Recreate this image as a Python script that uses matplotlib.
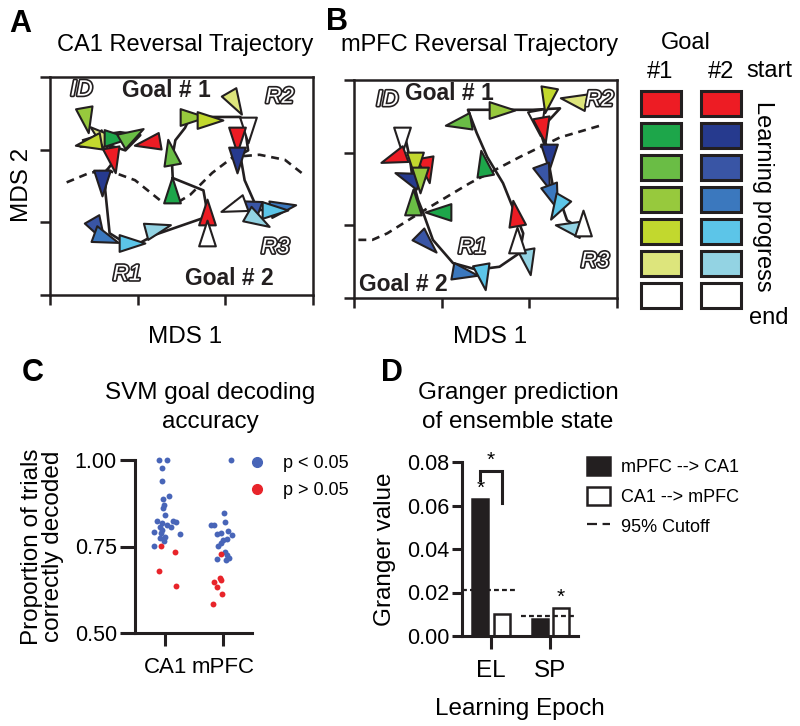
import matplotlib
matplotlib.use('Agg')
import matplotlib.pyplot as plt
import matplotlib.patheffects as pe
from matplotlib.markers import MarkerStyle
from matplotlib.path import Path
from matplotlib.transforms import Affine2D
from matplotlib.patches import Patch
from matplotlib.lines import Line2D
import numpy as np

plt.rcParams['font.family'] = ['Liberation Sans', 'DejaVu Sans']

W, H = 800, 726
INK = '#231F20'

# learning progress colours (start -> end)
goal1_colors = ['#ED1C24', '#1DA64A', '#6ABD45', '#97C93D', '#C2D82E', '#DDE57C', '#FFFFFF']
goal2_colors = ['#ED1C24', '#263A8E', '#3955A5', '#3B78BE', '#5CC5E8', '#93D3E3', '#FFFFFF']
color_key = {'r': goal1_colors[0], 'g1': goal1_colors[1], 'g2': goal1_colors[2],
             'g3': goal1_colors[3], 'g4': goal1_colors[4], 'g5': goal1_colors[5],
             'b1': goal2_colors[1], 'b2': goal2_colors[2], 'b3': goal2_colors[3],
             'b4': goal2_colors[4], 'b5': goal2_colors[5], 'w': '#FFFFFF'}

# --- A: CA1 trajectory (MDS units) ---
ca1_path_x = [0.38, 0.57, 0.80, 1.03, 0.86, 0.68, 0.74, 0.65, 0.63, 0.68, 0.80, 1.03, 1.20,
              1.75, 1.79, 1.75, 1.40, 1.39, 1.40, 1.39, 1.43, 1.54, 1.60, 2.17, 2.22, 2.26,
              2.17, 2.22, 2.37, 2.57]
ca1_path_y = [2.13, 2.20, 2.24, 2.20, 1.99, 2.06, 1.86, 1.72, 1.44, 0.85, 0.76, 0.72, 0.83,
              1.06, 1.17, 1.44, 1.61, 1.42, 1.61, 1.86, 2.13, 2.30, 2.45, 2.45, 2.34, 1.99,
              1.93, 1.58, 1.17, 1.17]
ca1_tri_x = [0.41, 0.48, 0.57, 0.43, 0.76, 0.94, 1.11, 0.72, 0.59, 0.55, 0.64, 0.94, 1.23,
             1.79, 1.79, 1.39, 1.37, 1.63, 1.82, 2.11, 2.26, 2.13, 2.13, 2.25, 2.66, 2.57,
             2.37, 2.09]
ca1_tri_y = [2.41, 2.10, 2.20, 2.09, 2.16, 2.20, 2.09, 1.86, 1.54, 0.89, 0.78, 0.72, 0.92,
             1.14, 0.85, 1.44, 1.97, 2.45, 2.41, 2.64, 2.27, 2.13, 1.86, 1.24, 1.21, 1.17,
             1.03, 1.21]
ca1_tri_angle = [-80, 200, 140, 190, 0, 30, 190, -80, -90, -60, -20, 0, 15,
                 90, 90, 90, 100, 0, 0, -60, -90, -90, -90, 160, 10, 0, -30, 200]
ca1_tri_color = ['g3', 'g5', 'g5', 'g4', 'g1', 'g2', 'r', 'r', 'b1', 'b2', 'b3', 'b4', 'b5',
                 'r', 'w', 'g1', 'g2', 'g3', 'g4', 'g5', 'w', 'r', 'b1', 'b2', 'b3', 'b4',
                 'b5', 'w']
ca1_bound_x = [0.19, 0.45, 0.65, 0.97, 1.29, 1.45, 1.60, 1.85, 2.09, 2.39, 2.68, 2.87]
ca1_bound_y = [1.55, 1.68, 1.72, 1.58, 1.27, 1.27, 1.38, 1.68, 1.90, 1.93, 1.86, 1.68]

# --- B: mPFC trajectory ---
pfc_path_x = [0.58, 0.64, 0.67, 0.73, 0.79, 0.90, 1.13, 1.40, 1.66, 1.89, 1.93, 1.81, 1.70,
              1.52, 1.40, 1.30, 1.66, 2.04, 2.35, 2.12, 2.18, 2.23, 2.27, 2.35, 2.43, 2.52]
pfc_path_y = [2.24, 1.90, 1.62, 1.35, 1.17, 0.80, 0.48, 0.39, 0.43, 0.62, 0.89, 1.25, 1.58,
              1.94, 2.27, 2.59, 2.59, 2.59, 2.61, 2.31, 2.08, 1.80, 1.53, 1.35, 1.07, 1.00]
pfc_tri_x = [0.55, 0.44, 0.83, 0.70, 0.60, 0.75, 0.67, 0.96, 0.83, 1.27, 1.47, 1.98, 1.86,
             1.84, 1.47, 1.19, 1.69, 2.20, 2.50, 2.10, 2.16, 2.23, 2.18, 2.27, 2.31, 2.44, 2.61]
pfc_tri_y = [2.17, 1.93, 1.76, 1.83, 1.66, 1.62, 1.32, 1.18, 0.76, 0.34, 0.29, 0.50, 0.80,
             1.17, 1.86, 2.41, 2.59, 2.72, 2.72, 2.41, 2.31, 1.94, 1.66, 1.39, 1.24, 0.98, 1.03]
pfc_tri_angle = [-90, 200, -80, -90, 160, -90, 90, 180, -45, -10, -80, -80, 90,
                 100, 100, 190, 0, -100, 170, -80, -80, -90, -70, -70, -120, 170, 90]
pfc_tri_color = ['w', 'r', 'r', 'g4', 'b1', 'g3', 'g2', 'g1', 'b2', 'b3', 'b4', 'b5', 'w',
                 'r', 'g1', 'g2', 'g3', 'g4', 'g5', 'w', 'r', 'b1', 'b2', 'b3', 'b4', 'b5', 'w']
pfc_bound_x = [0.05, 0.21, 0.38, 0.75, 1.32, 1.89, 2.35, 2.83]
pfc_bound_y = [0.80, 0.80, 0.89, 1.17, 1.58, 1.94, 2.21, 2.38]

# --- C: SVM decoding accuracy (x jitter, value) ---
ca1_sig_jit = [-0.10, 0.04, -0.06, -0.06, 0.07, -0.03, -0.02, -0.03, -0.01, -0.14, -0.06, 0.14,
               0.18, 0.03, 0.10, -0.09, -0.05, -0.20, -0.07, 0.26, 0.00, -0.09, -0.02, -0.20]
ca1_sig_val = [1.00, 1.00, 0.977, 0.938, 0.896, 0.887, 0.871, 0.861, 0.842, 0.824, 0.818, 0.824,
               0.821, 0.813, 0.806, 0.807, 0.797, 0.792, 0.790, 0.786, 0.778, 0.775, 0.765, 0.751]
ca1_ns_jit = [-0.07, 0.17, -0.10, 0.19]
ca1_ns_val = [0.751, 0.733, 0.679, 0.636]
pfc_sig_jit = [0.13, 0.02, -0.21, -0.16, 0.04, -0.11, -0.03, 0.09, 0.16, 0.07, 0.00, -0.09,
               -0.03, 0.03, 0.06, 0.10, 0.05, -0.11]
pfc_sig_val = [1.00, 0.847, 0.812, 0.812, 0.821, 0.785, 0.788, 0.794, 0.783, 0.773, 0.768, 0.751,
               0.761, 0.734, 0.725, 0.717, 0.711, 0.715]
pfc_ns_jit = [-0.04, -0.06, -0.03, -0.16, -0.10, -0.02, -0.18]
pfc_ns_val = [0.728, 0.659, 0.654, 0.647, 0.632, 0.614, 0.585]
svm_groups = ['CA1', 'mPFC']

# --- D: Granger values ---
epochs = ['EL', 'SP']
mpfc_to_ca1 = [0.063, 0.008]
ca1_to_mpfc = [0.010, 0.013]
cutoff_95 = [0.021, 0.009]

# ---------------------------------------------------------------
fig = plt.figure(figsize=(W / 100, H / 100), dpi=100)


def px_box(x0, y0, x1, y1):
    return [x0 / W, 1 - y1 / H, (x1 - x0) / W, (y1 - y0) / H]


def ftext(x, y, s, **kw):
    kw.setdefault('ha', 'center')
    kw.setdefault('va', 'center')
    return fig.text(x / W, 1 - y / H, s, **kw)


tri_path = Path([(1, 0), (-1, 0.65), (-1, -0.65), (1, 0)],
                [Path.MOVETO, Path.LINETO, Path.LINETO, Path.CLOSEPOLY])
outline = [pe.Stroke(linewidth=2.4, foreground=INK), pe.Normal()]


def trajectory(ax, px, py, tx, ty, ta, tc, bx, by, labels):
    ax.plot(bx, by, color=INK, lw=1.9, ls=(0, (3.0, 2.2)), zorder=1)
    ax.plot(px, py, color=INK, lw=1.9, zorder=2)
    for x, y, a, c in zip(tx, ty, ta, tc):
        m = MarkerStyle(tri_path, transform=Affine2D().rotate_deg(a))
        ax.plot(x, y, marker=m, ms=18.5, mfc=color_key[c], mec=INK, mew=1.5,
                ls='none', zorder=3)
    for x, y, s, kind in labels:
        if kind == 'goal':
            ax.text(x, y, s, fontsize=16.5, fontweight='bold', ha='center', va='center',
                    color=INK, zorder=4)
        else:
            ax.text(x, y, s, fontsize=16, style='italic', ha='center', va='center',
                    color='white', path_effects=outline, zorder=4)
    ax.set_xlim(0, 3)
    ax.set_ylim(0, 3)
    ax.set_xticks([0, 1, 2, 3])
    ax.set_yticks([0, 1, 2, 3])
    ax.set_xticklabels([])
    ax.set_yticklabels([])
    ax.tick_params(direction='out', length=7, width=1.8, color=INK)
    for sp in ax.spines.values():
        sp.set_linewidth(1.8)
        sp.set_color(INK)


axA = fig.add_axes(px_box(50, 77, 313, 295))
trajectory(axA, ca1_path_x, ca1_path_y, ca1_tri_x, ca1_tri_y, ca1_tri_angle, ca1_tri_color,
           ca1_bound_x, ca1_bound_y,
           [(0.36, 2.82, 'ID', 'r'), (1.33, 2.82, 'Goal # 1', 'goal'), (2.62, 2.72, 'R2', 'r'),
            (2.57, 0.65, 'R3', 'r'), (0.88, 0.28, 'R1', 'r'), (2.05, 0.23, 'Goal # 2', 'goal')])

axB = fig.add_axes(px_box(354, 80, 617, 298))
trajectory(axB, pfc_path_x, pfc_path_y, pfc_tri_x, pfc_tri_y, pfc_tri_angle, pfc_tri_color,
           pfc_bound_x, pfc_bound_y,
           [(0.38, 2.72, 'ID', 'r'), (1.09, 2.82, 'Goal # 1', 'goal'), (2.80, 2.72, 'R2', 'r'),
            (1.35, 0.69, 'R1', 'r'), (2.75, 0.50, 'R3', 'r'), (0.56, 0.18, 'Goal # 2', 'goal')])

ftext(20, 24, 'A', fontsize=22, fontweight='bold')
ftext(337, 22, 'B', fontsize=22, fontweight='bold')
ftext(185, 45, 'CA1 Reversal Trajectory', fontsize=17)
ftext(480, 45, 'mPFC Reversal Trajectory', fontsize=17)
ftext(22, 185, 'MDS 2', fontsize=17.5, rotation=90)
ftext(185, 337, 'MDS 1', fontsize=17.5)
ftext(490, 337, 'MDS 1', fontsize=17.5)

# colour key
axL = fig.add_axes(px_box(631, 87.5, 751, 311.5))
rows = np.arange(len(goal1_colors))
for col, cols in enumerate([goal1_colors, goal2_colors]):
    axL.bar(np.full(len(rows), col), np.full(len(rows), 0.78), bottom=rows - 0.39, width=0.667,
            color=cols, edgecolor=INK, linewidth=2.2)
axL.set_xlim(-0.5, 1.5)
axL.set_ylim(6.5, -0.5)
axL.axis('off')
ftext(686, 43, 'Goal', fontsize=17)
ftext(660, 72, '#1', fontsize=17)
ftext(721, 72, '#2', fontsize=17)
ftext(769, 71, 'start', fontsize=17)
ftext(763, 196, 'Learning progress', fontsize=17, rotation=-90)
ftext(769, 318, 'end', fontsize=17)

# --- C ---
axC = fig.add_axes(px_box(135, 460, 252, 633))
blue, red = '#4865B8', '#E8242A'
for i, (sj, sv, nj, nv) in enumerate([(ca1_sig_jit, ca1_sig_val, ca1_ns_jit, ca1_ns_val),
                                       (pfc_sig_jit, pfc_sig_val, pfc_ns_jit, pfc_ns_val)]):
    axC.scatter(i + np.array(sj), sv, s=18, color=blue, clip_on=False, zorder=3, lw=0)
    axC.scatter(i + np.array(nj), nv, s=18, color=red, clip_on=False, zorder=3, lw=0)
axC.set_xlim(-0.52, 1.5)
axC.set_ylim(0.5, 1.0)
axC.set_yticks([0.5, 0.75, 1.0])
axC.set_yticklabels(['0.50', '0.75', '1.00'])
axC.set_xticks([0, 1])
axC.set_xticklabels(svm_groups)
axC.spines[['top', 'right']].set_visible(False)
for sp in ['left', 'bottom']:
    axC.spines[sp].set_linewidth(2.2)
    axC.spines[sp].set_color(INK)
axC.tick_params(axis='y', length=11, width=2.2, labelsize=15.5, pad=2, color=INK)
axC.tick_params(axis='x', length=9, width=2.2, labelsize=16, pad=8, color=INK)
axC.set_ylabel('Proportion of trials\ncorrectly decoded', fontsize=17.5, labelpad=8,
               linespacing=0.95)
axC.legend(handles=[Line2D([], [], ls='none', marker='o', ms=7, mfc=blue, mec=blue),
                    Line2D([], [], ls='none', marker='o', ms=7, mfc=red, mec=red)],
           labels=['p < 0.05', 'p > 0.05'], loc='upper left', bbox_to_anchor=(248 / W, 1 - 455 / H),
           bbox_transform=fig.transFigure, frameon=False, fontsize=13, handlelength=1.0,
           handletextpad=0.95, labelspacing=0.55, borderpad=0, borderaxespad=0)
ftext(33, 373, 'C', fontsize=22, fontweight='bold')
ftext(210, 393, 'SVM goal decoding', fontsize=17.5)
ftext(210, 422, 'accuracy', fontsize=17.5)

# --- D ---
axD = fig.add_axes(px_box(462, 462, 578, 636))
xe = np.arange(len(epochs))
axD.bar(xe - 0.18, mpfc_to_ca1, width=0.27, color=INK, edgecolor=INK, lw=1.8, zorder=2)
axD.bar(xe + 0.18, ca1_to_mpfc, width=0.27, color='white', edgecolor=INK, lw=1.8, zorder=2)
axD.hlines(cutoff_95, xe - 0.49, xe + 0.45, colors=INK, lw=1.6, linestyles=(0, (2.2, 1.4)),
           zorder=3)
top = mpfc_to_ca1[0] + 0.013
axD.plot([xe[0] - 0.18, xe[0] - 0.18, xe[0] + 0.18, xe[0] + 0.18],
         [mpfc_to_ca1[0] + 0.0087, top, top, mpfc_to_ca1[0] - 0.0017], color=INK, lw=2.2,
         solid_joinstyle='miter', clip_on=False)
axD.text(xe[0], top + 0.0005, '*', fontsize=15, ha='center', va='bottom')
axD.text(xe[0] - 0.18, mpfc_to_ca1[0] + 0.0003, '*', fontsize=15, ha='center', va='bottom')
axD.text(xe[1] + 0.18, ca1_to_mpfc[1] + 0.0003, '*', fontsize=15, ha='center', va='bottom')
axD.set_xlim(-0.49, 1.47)
axD.set_ylim(0, 0.08)
axD.set_yticks([0, 0.02, 0.04, 0.06, 0.08])
axD.set_yticklabels(['0.00', '0.02', '0.04', '0.06', '0.08'])
axD.set_xticks(xe)
axD.set_xticklabels(epochs)
axD.spines[['top', 'right']].set_visible(False)
for sp in ['left', 'bottom']:
    axD.spines[sp].set_linewidth(2.2)
    axD.spines[sp].set_color(INK)
axD.tick_params(axis='y', length=7, width=2.2, labelsize=15.5, pad=2, color=INK)
axD.tick_params(axis='x', length=9, width=2.2, labelsize=17.5, pad=8, color=INK)
axD.set_xlabel('Learning Epoch', fontsize=17.5, labelpad=12)
axD.set_ylabel('Granger value', fontsize=17.5, labelpad=8)
axD.legend(handles=[Patch(facecolor=INK, edgecolor=INK, lw=1.8),
                    Patch(facecolor='white', edgecolor=INK, lw=1.8),
                    Line2D([], [], color=INK, lw=1.6, dashes=(4.5, 2.5))],
           labels=['mPFC --> CA1', 'CA1 --> mPFC', '95% Cutoff'], loc='upper left',
           bbox_to_anchor=(587 / W, 1 - 457 / H), bbox_transform=fig.transFigure, frameon=False,
           fontsize=13, handlelength=1.27, handleheight=1.15, handletextpad=0.6,
           labelspacing=0.6, borderpad=0, borderaxespad=0)
ftext(392, 373, 'D', fontsize=22, fontweight='bold')
ftext(518, 393, 'Granger prediction', fontsize=17.5)
ftext(518, 422, 'of ensemble state', fontsize=17.5)

fig.savefig('out.png', dpi=100)
